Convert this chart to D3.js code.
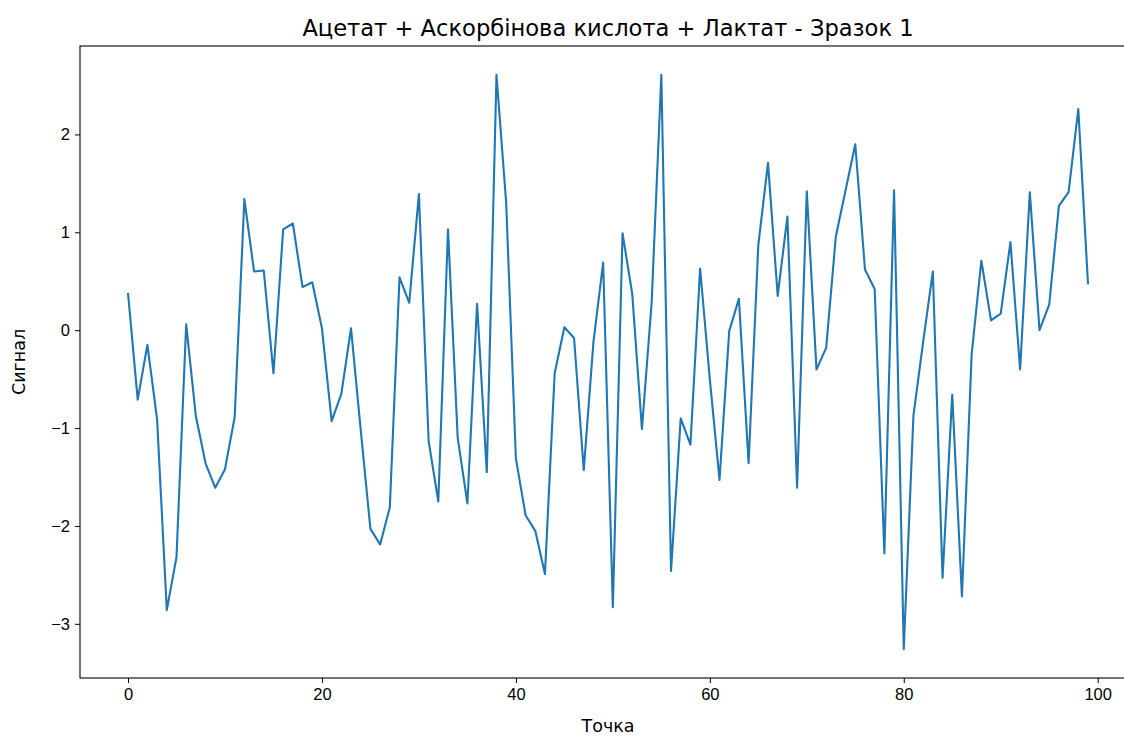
<!DOCTYPE html>
<html>
<head>
<meta charset="utf-8">
<script src="https://cdnjs.cloudflare.com/ajax/libs/d3/7.8.5/d3.min.js"></script>
<style>
  body { margin: 0; background: #fff; overflow: hidden; }
  svg { display: block; font-family: "DejaVu Sans", sans-serif; }
  .tick text { font-size: 16.5px; fill: #000; }
  .tick line { stroke: #000; stroke-width: 1; }
  .domain { display: none; }
</style>
</head>
<body>
<div id="chart"></div>
<script>
// title and labels
var chartTitle = "Ацетат + Аскорбінова кислота + Лактат - Зразок 1";
var xLabel = "Точка";
var yLabel = "Сигнал";

// signal values, one per point 0..99
var signal = [
  0.38, -0.71, -0.15, -0.91, -2.86, -2.32, 0.06, -0.88, -1.36, -1.61,
  -1.42, -0.89, 1.34, 0.60, 0.61, -0.44, 1.03, 1.09, 0.44, 0.49,
  0.02, -0.93, -0.65, 0.02, -1.02, -2.03, -2.19, -1.81, 0.54, 0.28,
  1.39, -1.13, -1.75, 1.03, -1.10, -1.77, 0.27, -1.45, 2.61, 1.30,
  -1.31, -1.89, -2.05, -2.49, -0.44, 0.03, -0.08, -1.43, -0.12, 0.69,
  -2.83, 0.99, 0.37, -1.01, 0.28, 2.61, -2.46, -0.90, -1.17, 0.63,
  -0.50, -1.53, -0.01, 0.32, -1.36, 0.87, 1.71, 0.35, 1.16, -1.61,
  1.42, -0.40, -0.18, 0.96, 1.43, 1.90, 0.62, 0.42, -2.28, 1.43,
  -3.26, -0.87, -0.12, 0.60, -2.53, -0.66, -2.72, -0.25, 0.71, 0.10,
  0.17, 0.90, -0.40, 1.41, 0.00, 0.26, 1.27, 1.41, 2.26, 0.47
];
var points = d3.range(signal.length);

// tick labels
var xTicks = [0, 20, 40, 60, 80, 100];
var yTicks = [-3, -2, -1, 0, 1, 2];

var width = 1124, height = 736;
// the axes box runs past the right edge of the window, like the source
var box = { left: 80, right: 1136, top: 46, bottom: 678 };

var svg = d3.select("#chart").append("svg")
  .attr("width", width)
  .attr("height", height);

// matplotlib style 5% margins around the data
var xPad = (points.length - 1) * 0.05;
var x = d3.scaleLinear()
  .domain([-xPad, points.length - 1 + xPad])
  .range([box.left, box.right]);

var yExt = d3.extent(signal);
var yPad = (yExt[1] - yExt[0]) * 0.05;
var y = d3.scaleLinear()
  .domain([yExt[0] - yPad, yExt[1] + yPad])
  .range([box.bottom, box.top]);

var line = d3.line()
  .x(function(d, i) { return x(points[i]); })
  .y(function(d) { return y(d); });

svg.append("path")
  .datum(signal)
  .attr("d", line)
  .attr("fill", "none")
  .attr("stroke", "#1f77b4")
  .attr("stroke-width", 2.1)
  .attr("stroke-linejoin", "round")
  .attr("stroke-linecap", "butt");

// axes
svg.append("g")
  .attr("transform", "translate(0," + box.bottom + ")")
  .call(d3.axisBottom(x).tickValues(xTicks).tickSize(5).tickPadding(5)
    .tickFormat(d3.format("d")));

svg.append("g")
  .attr("transform", "translate(" + box.left + ",0)")
  .call(d3.axisLeft(y).tickValues(yTicks).tickSize(5).tickPadding(5)
    .tickFormat(function(d) { return d < 0 ? "\u2212" + Math.abs(d) : d; }));

// frame
svg.append("rect")
  .attr("x", box.left)
  .attr("y", box.top)
  .attr("width", box.right - box.left)
  .attr("height", box.bottom - box.top)
  .attr("fill", "none")
  .attr("stroke", "#000")
  .attr("stroke-width", 1.1);

// texts
var midX = (box.left + box.right) / 2;
svg.append("text")
  .attr("x", midX)
  .attr("y", 36)
  .attr("text-anchor", "middle")
  .style("font-size", "22.6px")
  .text(chartTitle);

svg.append("text")
  .attr("x", midX)
  .attr("y", 732)
  .attr("text-anchor", "middle")
  .style("font-size", "17.5px")
  .text(xLabel);

svg.append("text")
  .attr("transform", "translate(25," + (box.top + box.bottom) / 2 + ") rotate(-90)")
  .attr("text-anchor", "middle")
  .style("font-size", "17.5px")
  .text(yLabel);
</script>
</body>
</html>
